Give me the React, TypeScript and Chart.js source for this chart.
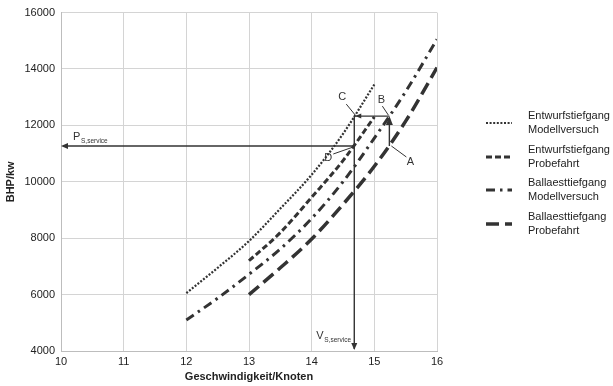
import React, { useEffect, useRef } from "react";
import { Chart, registerables } from "chart.js";

Chart.register(...registerables);

// ---- data ----
const speedsModelDesign = [12, 12.5, 13, 13.5, 14, 14.5, 15];
const bhpModelDesign = [6050, 6950, 7900, 9050, 10250, 11700, 13450];
const speedsTrialDesign = [13, 13.5, 14, 14.5, 15];
const bhpTrialDesign = [7200, 8200, 9450, 10750, 12300];
const speedsModelBallast = [12, 12.5, 13, 13.5, 14, 14.5, 15, 15.5, 16];
const bhpModelBallast = [5100, 5870, 6720, 7620, 8700, 10000, 11550, 13200, 15050];
const speedsTrialBallast = [13, 13.5, 14, 14.5, 15, 15.5, 16];
const bhpTrialBallast = [6000, 6950, 7970, 9200, 10550, 12150, 14050];

const seriesLabels = [
  ["Entwurfstiefgang", "Modellversuch"],
  ["Entwurfstiefgang", "Probefahrt"],
  ["Ballaesttiefgang", "Modellversuch"],
  ["Ballaesttiefgang", "Probefahrt"],
];

const xTickValues = [10, 11, 12, 13, 14, 15, 16];
const yTickValues = [4000, 6000, 8000, 10000, 12000, 14000, 16000];

// service point construction
const V_SERVICE = 14.68;
const P_SERVICE = 11270;
const C_BHP = 12330;
const B_SPEED = 15.24;

const xTitle = "Geschwindigkeit/Knoten";
const yTitle = "BHP/kw";

const FONT = '"Liberation Sans", Arial, Helvetica, sans-serif';
const INK = "#333333";

const toPoints = (xs: number[], ys: number[]) => xs.map((x, i) => ({ x, y: ys[i] }));

const styles = [
  { borderDash: [2, 1.6], borderWidth: 2.2 },
  { borderDash: [6, 3], borderWidth: 3 },
  { borderDash: [9, 5, 2.5, 5], borderWidth: 3 },
  { borderDash: [13, 6], borderWidth: 3.5 },
];

function arrowHead(ctx: CanvasRenderingContext2D, x: number, y: number, dir: string, size: number, w: number) {
  ctx.beginPath();
  if (dir === "left") {
    ctx.moveTo(x, y);
    ctx.lineTo(x + size, y - w);
    ctx.lineTo(x + size, y + w);
  } else if (dir === "down") {
    ctx.moveTo(x, y);
    ctx.lineTo(x - w, y - size);
    ctx.lineTo(x + w, y - size);
  } else if (dir === "up") {
    ctx.moveTo(x, y);
    ctx.lineTo(x - w, y + size);
    ctx.lineTo(x + w, y + size);
  }
  ctx.closePath();
  ctx.fill();
}

const overlayPlugin = {
  id: "overlay",
  afterDatasetsDraw(chart: any) {
    const ctx: CanvasRenderingContext2D = chart.ctx;
    const xs = chart.scales.x;
    const ys = chart.scales.y;
    const area = chart.chartArea;
    const dx = xs.getPixelForValue(V_SERVICE);
    const dy = ys.getPixelForValue(P_SERVICE);
    const cy = ys.getPixelForValue(C_BHP);
    const bx = xs.getPixelForValue(B_SPEED);

    ctx.save();
    ctx.strokeStyle = INK;
    ctx.fillStyle = INK;
    ctx.lineWidth = 1.4;
    ctx.setLineDash([]);

    // horizontal P line
    ctx.beginPath();
    ctx.moveTo(dx, dy);
    ctx.lineTo(area.left + 2, dy);
    ctx.stroke();
    arrowHead(ctx, area.left, dy, "left", 7, 3);

    // vertical V line from C down
    ctx.beginPath();
    ctx.moveTo(dx, cy);
    ctx.lineTo(dx, area.bottom - 2);
    ctx.stroke();
    arrowHead(ctx, dx, area.bottom - 1, "down", 7, 3);

    // C -> B horizontal
    ctx.beginPath();
    ctx.moveTo(dx + 1, cy);
    ctx.lineTo(bx, cy);
    ctx.stroke();
    arrowHead(ctx, dx + 1, cy, "left", 6, 2.5);

    // A -> B vertical
    ctx.beginPath();
    ctx.moveTo(bx, dy);
    ctx.lineTo(bx, cy + 2);
    ctx.stroke();
    arrowHead(ctx, bx, cy, "up", 9, 3.5);

    // letters with leader lines
    ctx.lineWidth = 1;
    const leader = (x1: number, y1: number, x2: number, y2: number) => {
      ctx.beginPath();
      ctx.moveTo(x1, y1);
      ctx.lineTo(x2, y2);
      ctx.stroke();
    };
    ctx.font = `11px ${FONT}`;
    ctx.textAlign = "center";
    ctx.textBaseline = "middle";
    ctx.fillText("C", dx - 12, cy - 19);
    leader(dx - 8, cy - 12, dx + 1, cy - 1);
    ctx.fillText("B", bx - 8, cy - 16);
    leader(bx - 7, cy - 10, bx - 1, cy - 1);
    ctx.fillText("D", dx - 26, dy + 12);
    leader(dx - 21, dy + 8, dx - 1, dy + 1);
    ctx.fillText("A", bx + 21, dy + 16);
    leader(bx + 17, dy + 11, bx + 2, dy);

    // P and V labels with subscripts
    ctx.textAlign = "left";
    ctx.textBaseline = "alphabetic";
    ctx.font = `11px ${FONT}`;
    ctx.fillText("P", area.left + 12, dy - 6);
    ctx.font = `6.5px ${FONT}`;
    ctx.fillText("S,service", area.left + 20, dy - 3);
    ctx.font = `11px ${FONT}`;
    ctx.fillText("V", dx - 38, area.bottom - 12);
    ctx.font = `6.5px ${FONT}`;
    ctx.fillText("S,service", dx - 30, area.bottom - 9);

    // legend
    const legendX1 = 486;
    const legendX2 = 512;
    const textX = 528;
    const rows = [116, 150, 183, 217];
    ctx.font = `11px ${FONT}`;
    ctx.textBaseline = "middle";
    ctx.fillStyle = "#222";
    chart.data.datasets.forEach((ds: any, i: number) => {
      const top = rows[i];
      const lines = seriesLabels[i];
      lines.forEach((t, k) => ctx.fillText(t, textX, top + k * 13.5));
      const sy = top + 7;
      ctx.save();
      ctx.strokeStyle = INK;
      ctx.lineWidth = ds.borderWidth;
      ctx.setLineDash(ds.borderDash);
      ctx.beginPath();
      ctx.moveTo(legendX1, sy);
      ctx.lineTo(legendX2, sy);
      ctx.stroke();
      ctx.restore();
    });

    ctx.restore();
  },
};

export default function App() {
  const ref = useRef<HTMLCanvasElement | null>(null);

  useEffect(() => {
    if (!ref.current) return;
    const datasets = [
      toPoints(speedsModelDesign, bhpModelDesign),
      toPoints(speedsTrialDesign, bhpTrialDesign),
      toPoints(speedsModelBallast, bhpModelBallast),
      toPoints(speedsTrialBallast, bhpTrialBallast),
    ].map((data, i) => ({
      label: seriesLabels[i].join(" "),
      data,
      borderColor: INK,
      backgroundColor: INK,
      borderWidth: styles[i].borderWidth,
      borderDash: styles[i].borderDash,
      borderCapStyle: "butt" as const,
      pointRadius: 0,
      cubicInterpolationMode: "monotone" as const,
      fill: false,
    }));

    const chart = new Chart(ref.current, {
      type: "line",
      data: { datasets },
      plugins: [overlayPlugin],
      options: {
        animation: false,
        responsive: true,
        maintainAspectRatio: false,
        parsing: false,
        layout: { padding: { top: 7, right: 176, left: 0, bottom: 0 } },
        plugins: { legend: { display: false }, tooltip: { enabled: false } },
        scales: {
          x: {
            type: "linear",
            min: 10,
            max: 16,
            afterFit: (s: any) => {
              s.height = 35;
            },
            afterBuildTicks: (s: any) => {
              s.ticks = xTickValues.map((v) => ({ value: v }));
            },
            grid: { color: "#d4d4d4", drawTicks: false, lineWidth: 1 },
            border: { color: "#bdbdbd" },
            ticks: {
              padding: 4,
              color: "#222",
              font: { family: FONT, size: 11 },
              callback: (v: any) => String(v),
              maxRotation: 0,
            },
            title: {
              display: true,
              text: xTitle,
              color: "#222",
              font: { family: FONT, size: 11, weight: "bold" },
              padding: { top: 0, bottom: 2 },
            },
          },
          y: {
            type: "linear",
            min: 4000,
            max: 16000,
            afterFit: (s: any) => {
              s.width = 61;
            },
            afterBuildTicks: (s: any) => {
              s.ticks = yTickValues.map((v) => ({ value: v }));
            },
            grid: { color: "#d4d4d4", drawTicks: false, lineWidth: 1 },
            border: { color: "#bdbdbd" },
            ticks: {
              padding: 6,
              color: "#222",
              font: { family: FONT, size: 11 },
              callback: (v: any) => String(v),
            },
            title: {
              display: true,
              text: yTitle,
              color: "#222",
              font: { family: FONT, size: 11, weight: "bold" },
              padding: { top: 4, bottom: 0 },
            },
          },
        },
      },
    });
    return () => chart.destroy();
  }, []);

  return (
    <div style={{ position: "fixed", left: 0, top: 0, width: 613, height: 386, background: "#fff" }}>
      <canvas ref={ref} />
    </div>
  );
}
